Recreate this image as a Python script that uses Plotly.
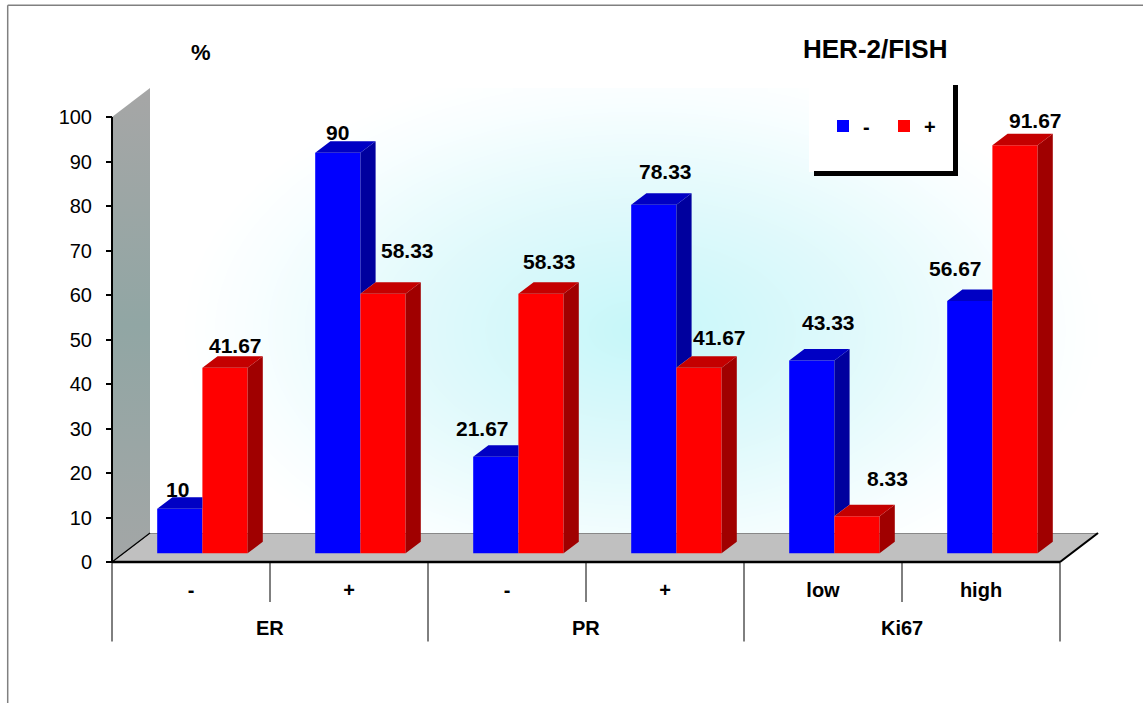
import numpy as np
import plotly.graph_objects as go

# ---------------- data ----------------
groups = ["ER", "PR", "Ki67"]
subcats = ["-", "+", "-", "+", "low", "high"]
series_names = ["-", "+"]
her2_neg = [10, 90, 21.67, 78.33, 43.33, 56.67]
her2_pos = [41.67, 58.33, 58.33, 41.67, 8.33, 91.67]
y_ticks = [0, 10, 20, 30, 40, 50, 60, 70, 80, 90, 100]
chart_title = "HER-2/FISH"
y_title = "%"

# ---------------- style / geometry ----------------
W, H = 1143, 703
AX_PX = 112.0        # pixel x of category edge 0
FLOOR_PY = 562.0     # pixel y of value 0
CAT_PX = 158.0       # pixels per category
VAL_PX = 4.45        # pixels per value unit
DEPTH_U = 38.0 / CAT_PX
DEPTH_V = 29.0 / VAL_PX
FRONT, BACK = 0.30, 0.70
BW = 45.2 / CAT_PX
FONT = "Liberation Sans, Arial, sans-serif"

BLUE, BLUE_SIDE, BLUE_TOP = "#0000FF", "#00009E", "#0000C4"
RED, RED_SIDE, RED_TOP = "#FF0000", "#A00000", "#C40000"

# label nudges in px (dx, dy-up), styling only
neg_nudge = [(-2, 19), (0, 20), (-13, 28), (12, 33), (17, 38), (-14, 33)]
pos_nudge = [(10, 22), (24, 43), (8, 32), (20, 30), (30, 38), (20, 25)]


def u_of(px):
    return (px - AX_PX) / CAT_PX


def v_of(py):
    return (FLOOR_PY - py) / VAL_PX


n = len(subcats)
a = FRONT * DEPTH_V
du = (BACK - FRONT) * DEPTH_U
dv = (BACK - FRONT) * DEPTH_V
centers = [i + 0.5 + FRONT * DEPTH_U for i in range(n)]

fig = go.Figure()

# back wall gradient (heatmap below bars)
nx, ny = 90, 60
xe = np.linspace(DEPTH_U, n + DEPTH_U, nx + 1)
ye = np.linspace(DEPTH_V, 100 + DEPTH_V, ny + 1)
xcen = (xe[:-1] + xe[1:]) / 2
ycen = (ye[:-1] + ye[1:]) / 2
PXg = AX_PX + xcen[None, :] * CAT_PX
PYg = FLOOR_PY - ycen[:, None] * VAL_PX
rr = np.sqrt(((PXg - 640) / 460) ** 2 + ((PYg - 330) / 270) ** 2)
zz = np.clip(rr, 0, 1)
fig.add_trace(go.Heatmap(
    x=xe, y=ye, z=zz, zsmooth="best", showscale=False, hoverinfo="skip",
    zmin=0, zmax=1,
    colorscale=[[0, "#c6f7f9"], [0.45, "#dff9fb"], [0.85, "#f8feff"], [1, "#ffffff"]],
))

# front faces as bars
fig.add_trace(go.Bar(
    x=[c - BW / 2 for c in centers], y=her2_neg, base=a, width=BW,
    marker=dict(color=BLUE, line=dict(width=0)), name=series_names[0],
))
fig.add_trace(go.Bar(
    x=[c + BW / 2 for c in centers], y=her2_pos, base=a, width=BW,
    marker=dict(color=RED, line=dict(width=0)), name=series_names[1],
))


def poly_trace(polys, color):
    xs, ys = [], []
    for p in polys:
        for (x, y) in p:
            xs.append(x)
            ys.append(y)
        xs.append(p[0][0])
        ys.append(p[0][1])
        xs.append(None)
        ys.append(None)
    return go.Scatter(x=xs, y=ys, mode="lines", fill="toself", fillcolor=color,
                      line=dict(width=0, color=color), hoverinfo="skip", showlegend=False)


blue_side, blue_top, red_side, red_top = [], [], [], []
for c, vb, vr in zip(centers, her2_neg, her2_pos):
    xl, xm, xr = c - BW, c, c + BW
    if vb > vr:
        blue_side.append([(xm, vr + a), (xm, vb + a), (xm + du, vb + a + dv), (xm + du, vr + a + dv)])
        blue_top.append([(xl, vb + a), (xm, vb + a), (xm + du, vb + a + dv), (xl + du, vb + a + dv)])
    else:
        blue_top.append([(xl, vb + a), (xm, vb + a), (xm, vb + a + dv), (xl + du, vb + a + dv)])
    red_side.append([(xr, a), (xr, vr + a), (xr + du, vr + a + dv), (xr + du, a + dv)])
    red_top.append([(xm, vr + a), (xr, vr + a), (xr + du, vr + a + dv), (xm + du, vr + a + dv)])

fig.add_trace(poly_trace(blue_side, BLUE_SIDE))
fig.add_trace(poly_trace(blue_top, BLUE_TOP))
fig.add_trace(poly_trace(red_side, RED_SIDE))
fig.add_trace(poly_trace(red_top, RED_TOP))

# left wall
fig.add_trace(go.Scatter(
    x=[0, 0, DEPTH_U, DEPTH_U, 0], y=[0, 100, 100 + DEPTH_V, DEPTH_V, 0],
    mode="lines", fill="toself", line=dict(width=0), hoverinfo="skip", showlegend=False,
    fillgradient=dict(type="vertical",
                      colorscale=[[0, "#a3a6a6"], [0.5, "#91a6a4"], [1, "#a6a6a6"]]),
))

shapes = []
# floor
shapes.append(dict(type="path", xref="x", yref="y", layer="below",
                   path=f"M 0,0 L {n},0 L {n + DEPTH_U},{DEPTH_V} L {DEPTH_U},{DEPTH_V} Z",
                   fillcolor="#C0C0C0", line=dict(color="#505050", width=1)))
for (x0, y0, x1, y1, w) in [
    (0, 0, 0, 100, 2), (0, 0, n, 0, 2.5), (n, 0, n + DEPTH_U, DEPTH_V, 2.2),
    (0, 0, DEPTH_U, DEPTH_V, 1.2)]:
    shapes.append(dict(type="line", xref="x", yref="y", x0=x0, y0=y0, x1=x1, y1=y1,
                       line=dict(color="black", width=w)))
# category dividers
for i in range(n + 1):
    yend = v_of(641.5) if i % 2 == 0 else v_of(602)
    shapes.append(dict(type="line", xref="x", yref="y", x0=i, x1=i, y0=0, y1=yend,
                       line=dict(color="black", width=1)))
# legend box with shadow lines
shapes.append(dict(type="rect", xref="paper", yref="paper",
                   x0=809 / W, x1=955 / W, y0=1 - 172 / H, y1=1 - 86 / H,
                   fillcolor="white", line=dict(width=0)))
shapes.append(dict(type="line", xref="paper", yref="paper",
                   x0=955.5 / W, x1=955.5 / W, y0=1 - 85 / H, y1=1 - 176 / H,
                   line=dict(color="black", width=5)))
shapes.append(dict(type="line", xref="paper", yref="paper",
                   x0=814 / W, x1=958 / W, y0=1 - 173.5 / H, y1=1 - 173.5 / H,
                   line=dict(color="black", width=5)))
# outer frame (top and left)
shapes.append(dict(type="line", xref="paper", yref="paper", x0=7.7 / W, x1=1, y0=1 - 5.3 / H, y1=1 - 5.3 / H,
                   line=dict(color="#808080", width=1.5)))
shapes.append(dict(type="line", xref="paper", yref="paper", x0=7.7 / W, x1=7.7 / W, y0=0, y1=1 - 5.3 / H,
                   line=dict(color="#808080", width=1.5)))

annotations = []
for vals, nudges, cen_off in [(her2_neg, neg_nudge, -BW / 2), (her2_pos, pos_nudge, BW / 2)]:
    for c, v, (nx_, ny_) in zip(centers, vals, nudges):
        annotations.append(dict(x=c + cen_off, y=v + a, xref="x", yref="y", text=f"{v:g}",
                                showarrow=False, xshift=nx_, yshift=ny_, xanchor="center",
                                font=dict(family=FONT, size=21, color="black", weight="bold")))
for gi, g in enumerate(groups):
    annotations.append(dict(x=2 * gi + 1, y=v_of(628.3), xref="x", yref="y", text=g, showarrow=False,
                            xanchor="center",
                            font=dict(family=FONT, size=20, color="black", weight="bold")))
annotations.append(dict(x=875 / W, y=1 - 49.3 / H, xref="paper", yref="paper", text=chart_title,
                        showarrow=False, xanchor="center", yanchor="middle",
                        font=dict(family=FONT, size=26, color="black", weight="bold")))
annotations.append(dict(x=201 / W, y=1 - 52.3 / H, xref="paper", yref="paper", text=y_title,
                        showarrow=False, xanchor="center", yanchor="middle",
                        font=dict(family=FONT, size=22, color="black", weight="bold")))

fig.update_layout(
    width=W, height=H, margin=dict(l=0, r=0, t=0, b=0),
    paper_bgcolor="white", plot_bgcolor="white",
    barmode="overlay", shapes=shapes, annotations=annotations,
    font=dict(family=FONT, color="black"),
    showlegend=True,
    legend=dict(orientation="h", x=823 / W, y=1 - 126 / H, xanchor="left", yanchor="middle",
                bgcolor="rgba(0,0,0,0)", font=dict(family=FONT, size=20, color="black", weight="bold"),
                traceorder="normal", entrywidth=16, entrywidthmode="pixels"),
    xaxis=dict(range=[u_of(0), u_of(W)], showgrid=False, zeroline=False, showline=False,
               tickmode="array", tickvals=[i + 0.5 for i in range(n)], ticktext=subcats,
               ticks="", anchor="free", position=1 - FLOOR_PY / H, ticklabelstandoff=14,
               tickfont=dict(family=FONT, size=20, color="black", weight="bold"), fixedrange=True),
    yaxis=dict(range=[v_of(H), v_of(0)], showgrid=False, zeroline=False, showline=False,
               tickmode="array", tickvals=y_ticks, ticks="outside", ticklen=6, tickwidth=1.5,
               tickcolor="black", anchor="free", position=AX_PX / W, ticklabelstandoff=10,
               tickfont=dict(family=FONT, size=20, color="black"), fixedrange=True),
)

fig.write_html("out.html", config={"displayModeBar": False},
               post_script="document.body.style.margin='0';document.body.style.overflow='hidden';")
